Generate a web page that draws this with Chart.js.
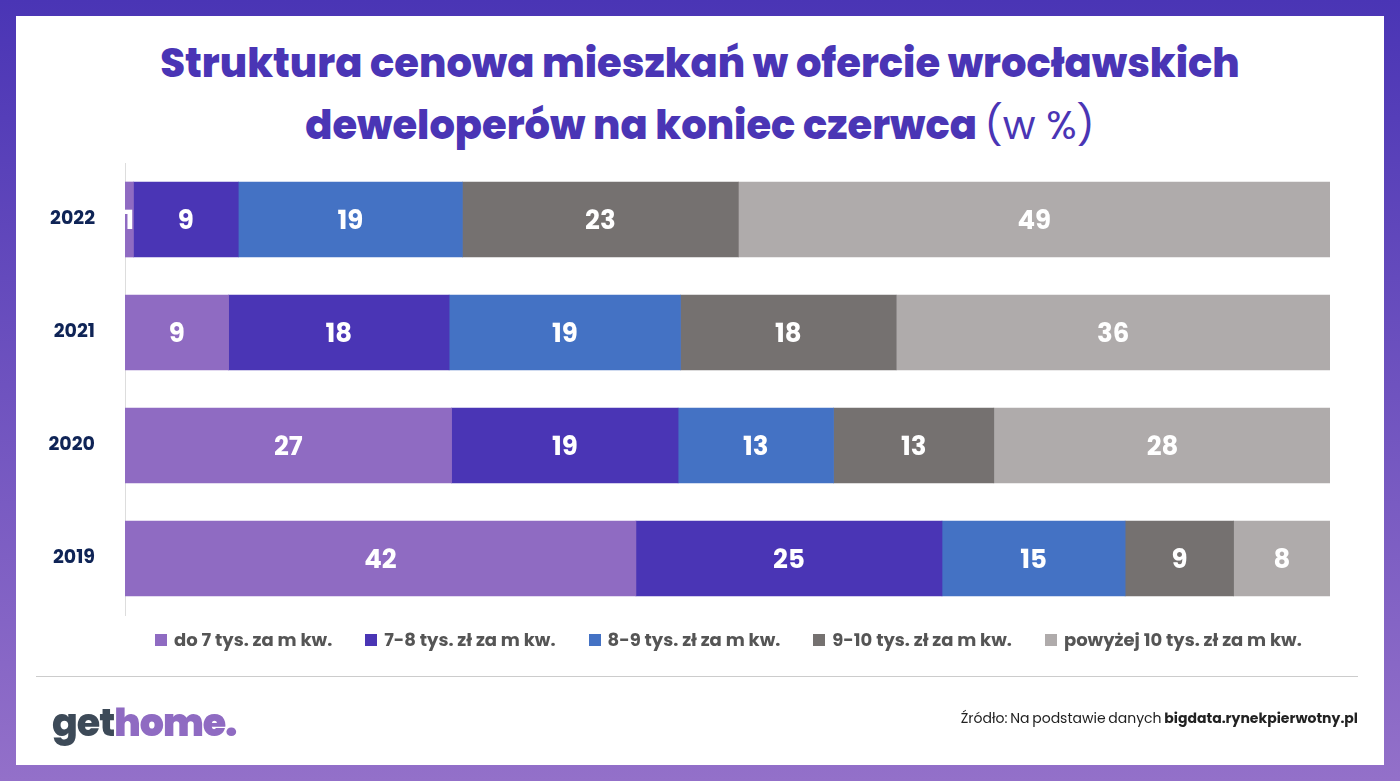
<!DOCTYPE html><html><head><meta charset="utf-8">
<script src="https://cdn.jsdelivr.net/npm/chart.js@4"></script>
<style>
body{margin:0;width:1400px;height:781px;background:linear-gradient(#4a35b5,#9370c9);font-family:Poppins,"Open Sans",Inter,sans-serif;position:relative;overflow:hidden}
#panel{position:absolute;left:16px;top:16px;width:1368px;height:749px;background:#fff}
#title{position:absolute;left:0;top:32px;width:1400px;text-align:center;color:#4a35b5;font-weight:800;font-size:40px;line-height:62px}
#title span{font-weight:400}
canvas{position:absolute;left:0;top:0}
#legend{position:absolute;top:626px;left:155px;font-size:18px;font-weight:700;color:#555;display:flex;gap:33px}
#legend i{display:inline-block;width:12px;height:12px;margin-right:7px}
#hr{position:absolute;left:36px;top:676px;width:1322px;height:1px;background:#ccc}
#logo{position:absolute;left:52px;top:694px;font-size:38px;font-weight:800;color:#3d4a58;letter-spacing:-1px}
#logo b{color:#8f6bc2}
#src{position:absolute;right:42px;top:708px;font-size:14px;color:#222;word-spacing:-1px}
</style></head><body>
<div id="panel"></div>
<div id="title">Struktura cenowa mieszkań w ofercie wrocławskich<br>deweloperów na koniec czerwca <span>(w %)</span></div>
<canvas id="c" width="1400" height="781"></canvas>
<div id="legend"></div>
<div id="hr"></div>
<div id="logo">get<b>home.</b></div>
<div id="src">Źródło: Na podstawie danych <b>bigdata.rynekpierwotny.pl</b></div>
<script>
const years=["2022","2021","2020","2019"];
const seriesNames=["do 7 tys. za m kw.","7-8 tys. zł za m kw.","8-9 tys. zł za m kw.","9-10 tys. zł za m kw.","powyżej 10 tys. zł za m kw."];
const colors=["#8f6bc2","#4a35b5","#4472c4","#757170","#afabab"];
const s1=[0.7,8.6,27.1,42.4];
const s2=[8.7,18.3,18.8,25.4];
const s3=[18.6,19.2,12.9,15.2];
const s4=[22.9,17.9,13.3,9.0];
const s5=[49.1,36.0,28.0,8.0];
const lab1=[1,9,27,42],lab2=[9,18,19,25],lab3=[19,19,13,15],lab4=[23,18,13,9],lab5=[49,36,28,8];
const vals=[s1,s2,s3,s4,s5],labs=[lab1,lab2,lab3,lab4,lab5];
document.getElementById('legend').innerHTML=seriesNames.map((n,i)=>`<span><i style="background:${colors[i]}"></i>${n}</span>`).join('');
const lbl={id:'lbl',afterDatasetsDraw(ch){const c=ch.ctx;c.save();c.fillStyle='#fff';c.font='700 26px Poppins,"Open Sans",sans-serif';c.textAlign='center';c.textBaseline='middle';
ch.data.datasets.forEach((d,i)=>ch.getDatasetMeta(i).data.forEach((b,j)=>{const x=(b.x+b.base)/2;c.fillText(labs[i][j],x,b.y+3);}));c.restore();}};
new Chart(document.getElementById('c'),{type:'bar',data:{labels:years,datasets:vals.map((v,i)=>({label:seriesNames[i],data:v,backgroundColor:colors[i],barThickness:75}))},
options:{indexAxis:'y',responsive:false,animation:false,layout:{padding:{left:30,right:70,top:163,bottom:166}},
plugins:{legend:{display:false},tooltip:{enabled:false}},
scales:{x:{stacked:true,min:0,max:100,display:false},y:{stacked:true,afterFit(s){s.width=95},grid:{display:false},border:{color:'#ddd'},ticks:{color:'#0f2456',font:{size:19,weight:'700',family:'Poppins,"Open Sans",sans-serif'},padding:22}}}},plugins:[lbl]});
</script></body></html>
